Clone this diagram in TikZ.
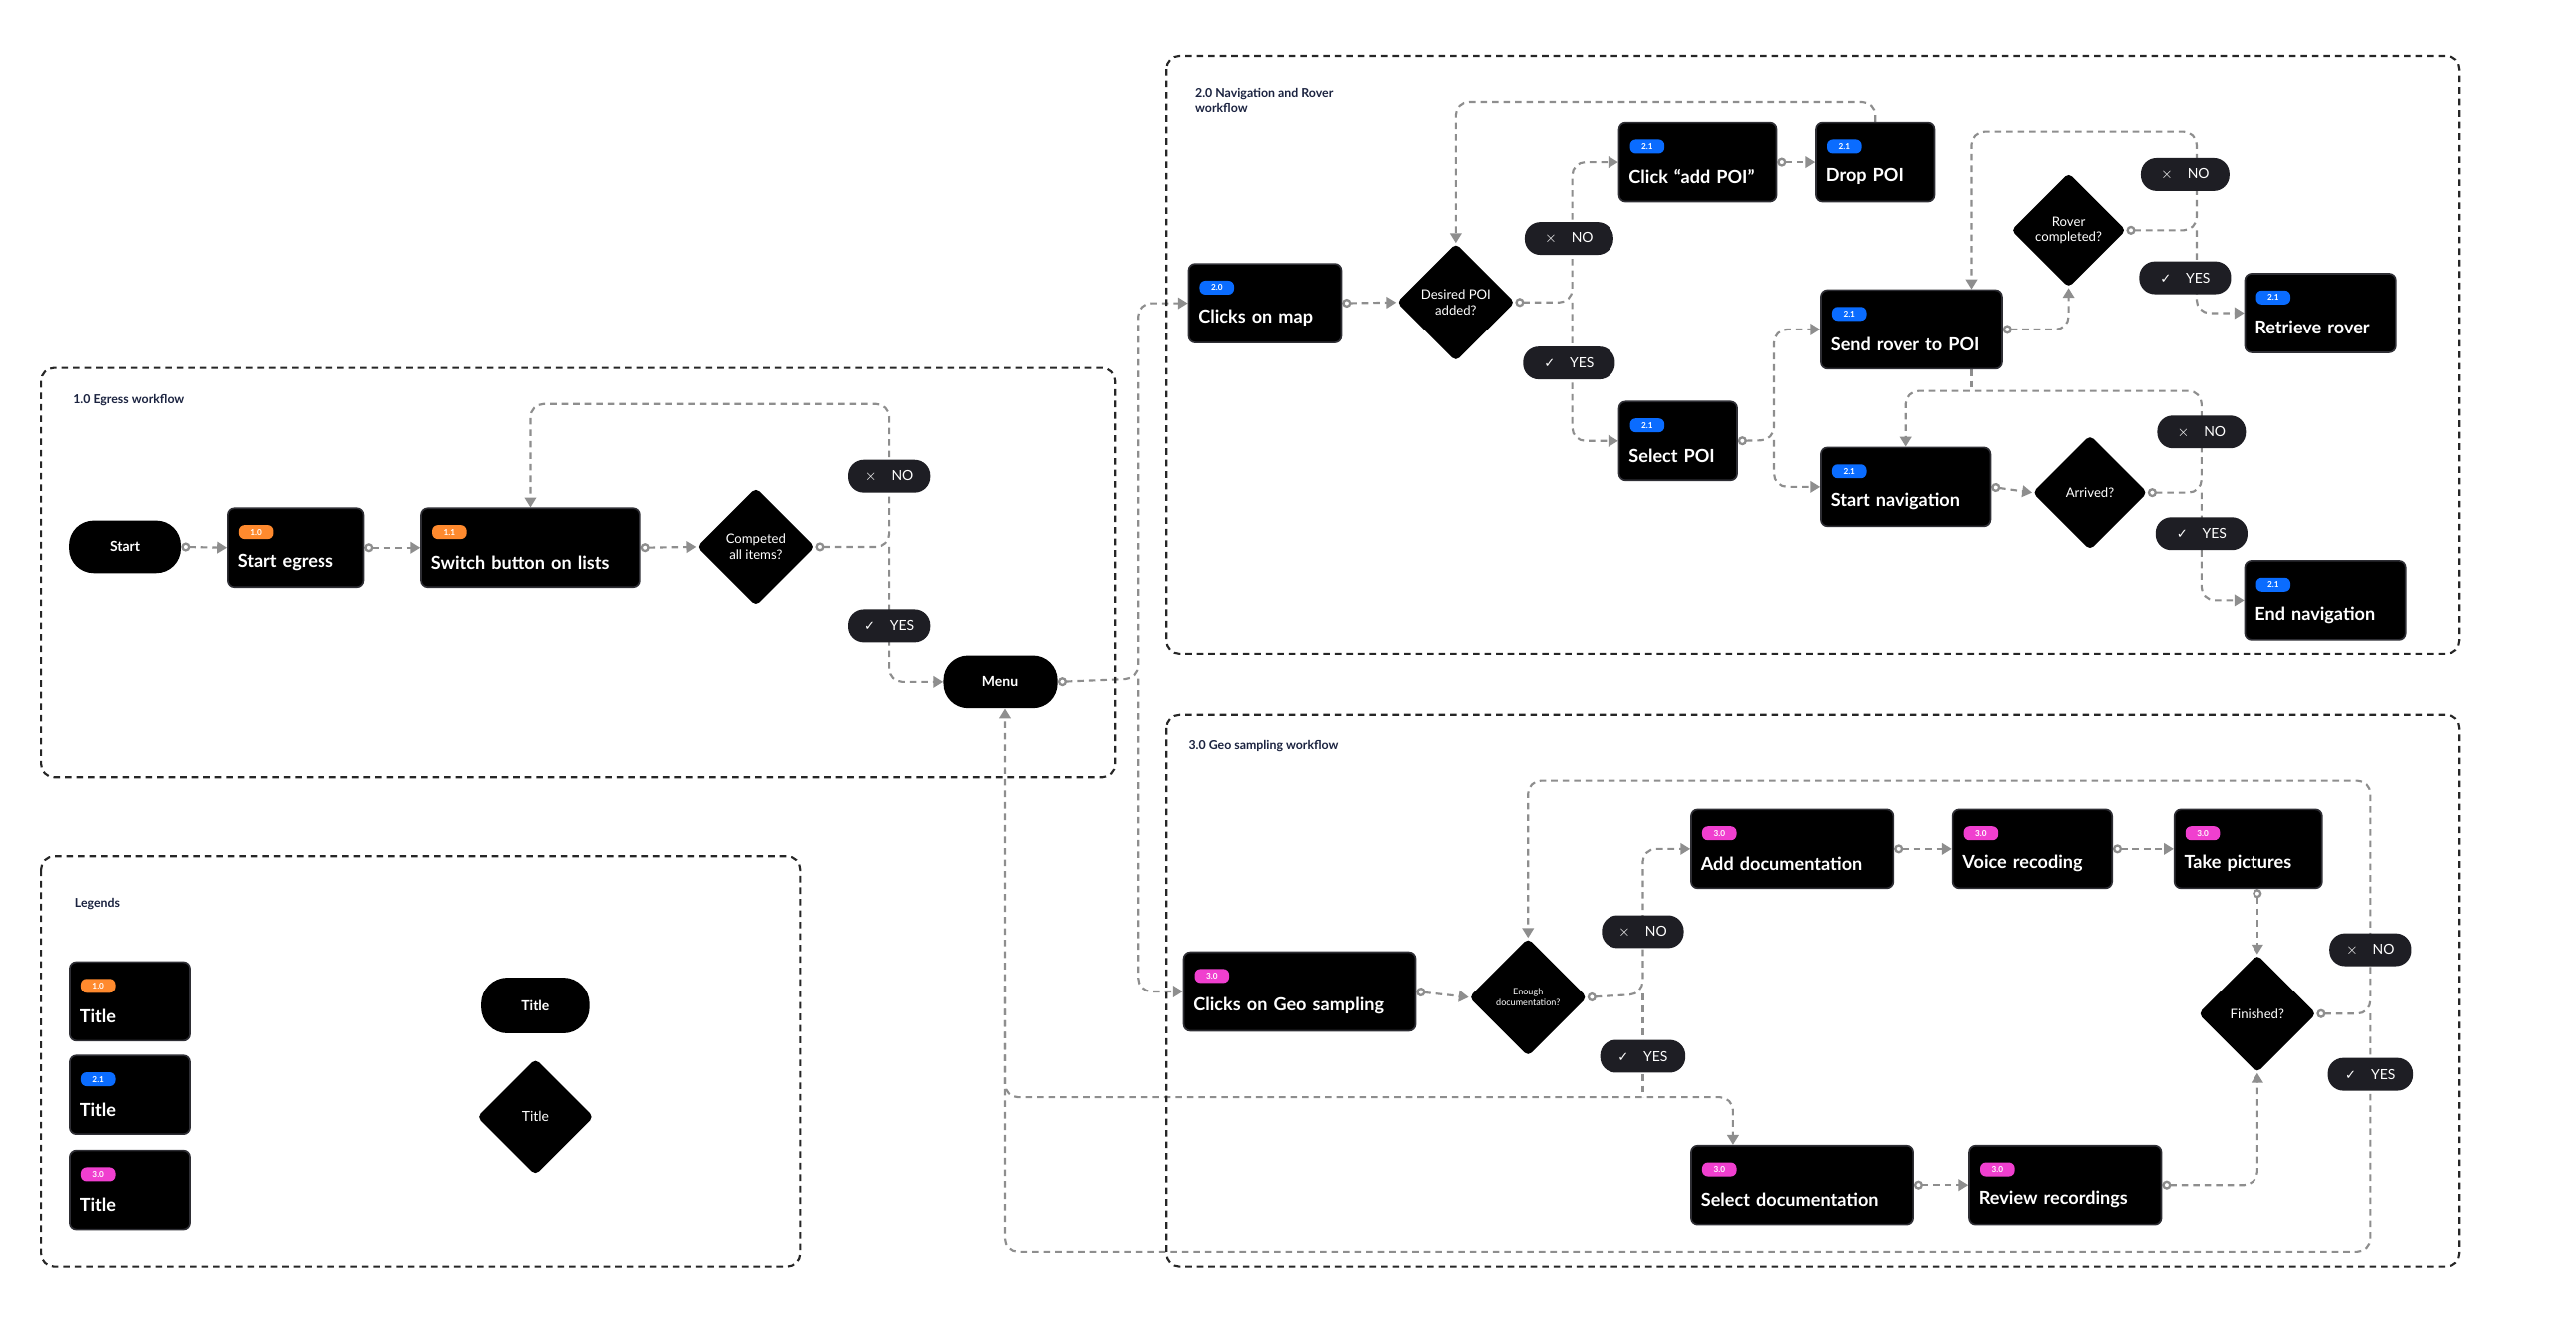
\documentclass[tikz,border=0pt]{standalone}
\usepackage{fontspec}
\setmainfont{Lato}
\newfontfamily\djv{DejaVu Sans}
\usetikzlibrary{shapes.geometric,arrows.meta,calc,backgrounds}
\definecolor{ln}{HTML}{8E8E8E}
\definecolor{bord}{HTML}{2E2E34}
\definecolor{tagc}{HTML}{1E1E24}
\definecolor{ttl}{HTML}{1B2340}
\definecolor{cor}{HTML}{FF8A2E}
\definecolor{cbl}{HTML}{0A6CFF}
\definecolor{cpk}{HTML}{F03FCF}
\tikzset{
 box/.style={fill=black,draw=bord,line width=1pt,rounded corners=4pt,text=white,align=left,inner sep=6pt,minimum height=48pt,font=\fontsize{11}{12}\selectfont\bfseries,anchor=north west},
 badge/.style={rounded corners=3.5pt,inner xsep=0pt,inner ysep=0pt,minimum width=21pt,minimum height=8.5pt,font=\fontsize{5}{5}\selectfont\bfseries,text=white,anchor=west},
 pill/.style={fill=black,rounded corners=15pt,text=white,font=\fontsize{8.5}{10}\selectfont\bfseries,minimum height=32pt},
 dia/.style={diamond,aspect=1,fill=black,rounded corners=3pt,minimum size=72pt,inner sep=0pt,text=white,align=center,font=\fontsize{8}{9.5}\selectfont},
 tag/.style={fill=tagc,rounded corners=9.5pt,text=white,minimum height=20pt,inner sep=2pt,font=\fontsize{8.5}{9}\selectfont},
 frame/.style={draw=black!85,line width=1.3pt,dash pattern=on 4pt off 3pt,rounded corners=8pt},
 ftitle/.style={anchor=west,text=ttl,font=\fontsize{7.5}{9}\selectfont\bfseries,align=left},
 fl/.style={draw=ln,line width=1.3pt,dash pattern=on 4pt off 3pt,rounded corners=8pt},
 fa/.style={fl,-{Triangle[length=6pt,width=7pt]}},
 fc/.style={fl,{Circle[open,length=5.5pt,line width=1.4pt]}-{Triangle[length=6pt,width=7pt]}},
}
% box: name, x, y, width, colour, badge, title
\newcommand\bx[7]{\node[box,minimum width=#4pt,text width=#4pt-12pt] (#1) at (#2,#3) {\rule{0pt}{11pt}\\[3pt]#7};
 \node[badge,fill=#5] (#1b) at ($(#1.north west)+(7,15)$) {#6};}
\newcommand\no{{\fontsize{9}{9}\selectfont$\times$}\hspace{9pt}NO}
\newcommand\yes{{\djv\fontsize{8}{9}\selectfont ✓}\hspace{9pt}YES}
\begin{document}
\begin{tikzpicture}[x=1pt,y=-1pt]
\useasboundingbox (0,0) rectangle (1568,804);
% frames
\draw[frame] (25,224) rectangle (679,473);
\draw[frame] (710,34) rectangle (1497,398);
\draw[frame] (710,435) rectangle (1497,771);
\draw[frame] (25,521) rectangle (487,771);
\node[ftitle] (t1) at (41,244) {1.0 Egress workflow};
\node[ftitle] (t2) at (724,61) {2.0 Navigation and Rover\\workflow};
\node[ftitle] (t3) at (720,454) {3.0 Geo sampling workflow};
\node[ftitle] (t4) at (42,550) {Legends};
% egress
\node[pill,minimum width=68pt] (start) at (76,333) {Start};
\bx{se}{138}{309}{83}{cor}{1.0}{Start egress}
\bx{sw}{256}{309}{133}{cor}{1.1}{Switch button on lists}
\node[dia] (cd) at (460,333) {Competed\\all items?};
\node[pill,minimum width=70pt] (menu) at (609,415) {Menu};
% nav
\bx{map}{723}{160}{93}{cbl}{2.0}{Clicks on map}
\node[dia] (dp) at (886,184) {Desired POI\\added?};
\bx{addpoi}{985}{74}{96}{cbl}{2.1}{Click “add POI”}
\bx{drop}{1105}{74}{72}{cbl}{2.1}{Drop POI}
\bx{selpoi}{985}{244}{72}{cbl}{2.1}{Select POI}
\bx{send}{1108}{176}{110}{cbl}{2.1}{Send rover to POI}
\bx{startnav}{1108}{272}{103}{cbl}{2.1}{Start navigation}
\node[dia,minimum size=70pt] (rc) at (1259,140) {Rover\\completed?};
\bx{retr}{1366}{166}{92}{cbl}{2.1}{Retrieve rover}
\node[dia,minimum size=70pt] (arr) at (1272,300) {Arrived?};
\bx{endnav}{1366}{341}{98}{cbl}{2.1}{End navigation}
% geo
\bx{geo}{720}{579}{141}{cpk}{3.0}{Clicks on Geo sampling}
\node[dia,font=\fontsize{5.5}{7}\selectfont] (en) at (930,607) {Enough\\documentation?};
\bx{adddoc}{1029}{492}{123}{cpk}{3.0}{Add documentation}
\bx{voice}{1188}{492}{97}{cpk}{3.0}{Voice recoding}
\bx{take}{1323}{492}{90}{cpk}{3.0}{Take pictures}
\node[dia] (fin) at (1374,617) {Finished?};
\bx{seldoc}{1029}{697}{135}{cpk}{3.0}{Select documentation}
\bx{review}{1198}{697}{117}{cpk}{3.0}{Review recordings}
% legend
\bx{l1}{42}{585}{73}{cor}{1.0}{Title}
\bx{l2}{42}{642}{73}{cbl}{2.1}{Title}
\bx{l3}{42}{700}{73}{cpk}{3.0}{Title}
\node[pill,minimum width=66pt,minimum height=34pt,rounded corners=16pt] (lp) at (326,612) {Title};
\node[dia,font=\fontsize{8.5}{10}\selectfont,minimum size=71pt] (ld) at (326,680) {Title};
% tags
\node[tag,minimum width=50pt] (n1) at (541,290) {\no};
\node[tag,minimum width=50pt] (y1) at (541,381) {\yes};
\node[tag,minimum width=54pt] (n2) at (955,145) {\no};
\node[tag,minimum width=56pt] (y2) at (955,221) {\yes};
\node[tag,minimum width=54pt] (n3) at (1330,106) {\no};
\node[tag,minimum width=56pt] (y3) at (1330,169) {\yes};
\node[tag,minimum width=54pt] (n4) at (1340,263) {\no};
\node[tag,minimum width=56pt] (y4) at (1340,325) {\yes};
\node[tag,minimum width=50pt] (n5) at (1000,567) {\no};
\node[tag,minimum width=52pt] (y5) at (1000,643) {\yes};
\node[tag,minimum width=50pt] (n6) at (1443,578) {\no};
\node[tag,minimum width=52pt] (y6) at (1443,654) {\yes};
\coordinate (sx) at (1200,0);
\coordinate (b668) at (612,668);
\coordinate (sdx) at (1055,0);
\begin{scope}[on background layer]
% egress
\draw[fc] (start.east) -- (se.west);
\draw[fc] (se.east) -- (sw.west);
\draw[fc] (sw.east) -- (cd.west);
\draw[fc] (cd.east) -- (541,333) -- (541,246) -| (sw.north);
\draw[fa] (541,333) |- (menu.west);
\draw[fc] (menu.east) -- (693,413) |- (map.west);
\draw[fa] (693,413) |- (geo.west);
% nav
\draw[fc] (map.east) -- (dp.west);
\draw[fc] (dp.east) -- (957,184) |- (addpoi.west);
\draw[fa] (957,184) |- (selpoi.west);
\draw[fc] (addpoi.east) -- (drop.west);
\draw[fa] (drop.north) -- ++(0,-12) -| (dp.north);
\draw[fc] (selpoi.east) -- (1080,268) |- (send.west);
\draw[fa] (1080,268) |- (startnav.west);
\draw[fc] (send.east) -| (rc.south);
\draw[fc] (rc.east) -- (1337,140) -- (1337,80) -| (send.north -| sx);
\draw[fa] (1337,140) |- (retr.west);
\draw[fl] (send.south -| sx) -- (1200,238);
\draw[fc] (startnav.east) -- (arr.west);
\draw[fc] (arr.east) -- (1340,300) -- (1340,238) -| (startnav.north);
\draw[fa] (1340,300) |- (endnav.west);
% geo
\draw[fc] (geo.east) -- (en.west);
\draw[fc] (en.east) -- (1000,605) |- (adddoc.west);
\draw[fl] (1000,605) -- (1000,668);
\draw[fc] (adddoc.east) -- (voice.west);
\draw[fc] (voice.east) -- (take.west);
\draw[fc] (fin.north |- take.south) -- (fin.north);
\draw[fc] (seldoc.east) -- (review.west);
\draw[fc] (review.east) -| (fin.south);
\draw[fc] (fin.east) -- (1443,617) -- (1443,475) -| (en.north);
\draw[fa] (1443,617) -- (1443,762) -| (menu.south -| b668);
\draw[fa] (612,600) -- (b668) -- (sdx |- b668) -- (seldoc.north -| sdx);
\end{scope}
\end{tikzpicture}
\end{document}
